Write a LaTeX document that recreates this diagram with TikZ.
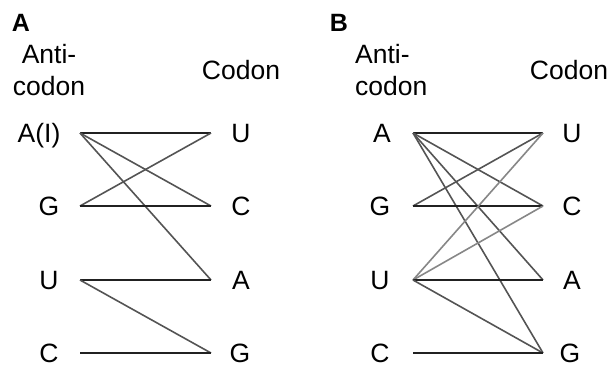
\documentclass[tikz,border=0pt]{standalone}
\usepackage{fontspec}
\setmainfont{Liberation Sans}
\usetikzlibrary{calc}
\tikzset{
	base/.style={font=\fontsize{26.5}{32}\selectfont, inner sep=0pt, text height=18.5pt, text depth=0pt},
	head/.style={font=\fontsize{26.5}{32}\selectfont, inner sep=0pt, anchor=base},
	panel/.style={font=\fontsize{25}{30}\selectfont\bfseries, inner sep=0pt, text height=17.5pt, text depth=0pt},
	pair/.style={line width=2pt, color=black!87},
	wobble/.style={line width=1.6pt, color=black!67},
	faint/.style={line width=1.6pt, color=black!47}
}

\begin{document}
\begin{tikzpicture}[x=1pt, y=-1pt]
			%%%%% START %%%%%
			\useasboundingbox (0, 0) rectangle (616, 368);
			
			% panel A
			\node[panel] (tagA) at (21, 23) {A};
			\node[head, align=center] (antiA) at (49, 95) {Anti-\\codon};
			\node[head] (codonA) at (241, 79) {Codon};
			
			\node[base] (aLA) at (39, 133) {A(I)};
			\node[base] (aLG) at (49, 206) {G};
			\node[base] (aLU) at (49, 280) {U};
			\node[base] (aLC) at (49, 353) {C};
			\node[base] (aRU) at (241, 133) {U};
			\node[base] (aRC) at (241, 206) {C};
			\node[base] (aRA) at (241, 280) {A};
			\node[base] (aRG) at (240, 353) {G};
			
			\coordinate (pA) at (80, 133);
			\coordinate (pG) at (80, 206);
			\coordinate (pU) at (80, 280);
			\coordinate (pC) at (80, 353);
			\coordinate (qU) at (211, 133);
			\coordinate (qC) at (211, 206);
			\coordinate (qA) at (211, 280);
			\coordinate (qG) at (211, 353);
			
			\draw[pair] (pA) -- (qU);
			\draw[wobble] (pA) -- (qC);
			\draw[wobble] (pA) -- (qA);
			\draw[wobble] (pG) -- (qU);
			\draw[pair] (pG) -- (qC);
			\draw[pair] (pU) -- (qA);
			\draw[wobble] (pU) -- (qG);
			\draw[pair] (pC) -- (qG);
			
			% panel B
			\node[panel] (tagB) at (339, 23) {B};
			\node[head, align=left, anchor=base west] (antiB) at (355, 95) {Anti-\\codon};
			\node[head] (codonB) at (569, 79) {Codon};
			
			\node[base] (bLA) at (382, 133) {A};
			\node[base] (bLG) at (380, 206) {G};
			\node[base] (bLU) at (380, 280) {U};
			\node[base] (bLC) at (380, 353) {C};
			\node[base] (bRU) at (572, 133) {U};
			\node[base] (bRC) at (572, 206) {C};
			\node[base] (bRA) at (572, 280) {A};
			\node[base] (bRG) at (570, 353) {G};
			
			\coordinate (sA) at (413, 133);
			\coordinate (sG) at (413, 206);
			\coordinate (sU) at (413, 280);
			\coordinate (sC) at (413, 353);
			\coordinate (tU) at (543, 133);
			\coordinate (tC) at (543, 206);
			\coordinate (tA) at (543, 280);
			\coordinate (tG) at (543, 353);
			
			\draw[pair] (sA) -- (tU);
			\draw[wobble] (sA) -- (tC);
			\draw[wobble] (sA) -- (tA);
			\draw[wobble] (sA) -- (tG);
			\draw[wobble] (sG) -- (tU);
			\draw[pair] (sG) -- (tC);
			\draw[faint] (sU) -- (tU);
			\draw[faint] (sU) -- (tC);
			\draw[pair] (sU) -- (tA);
			\draw[wobble] (sU) -- (tG);
			\draw[pair] (sC) -- (tG);
			%%%%% END %%%%%
\end{tikzpicture}
\end{document}
